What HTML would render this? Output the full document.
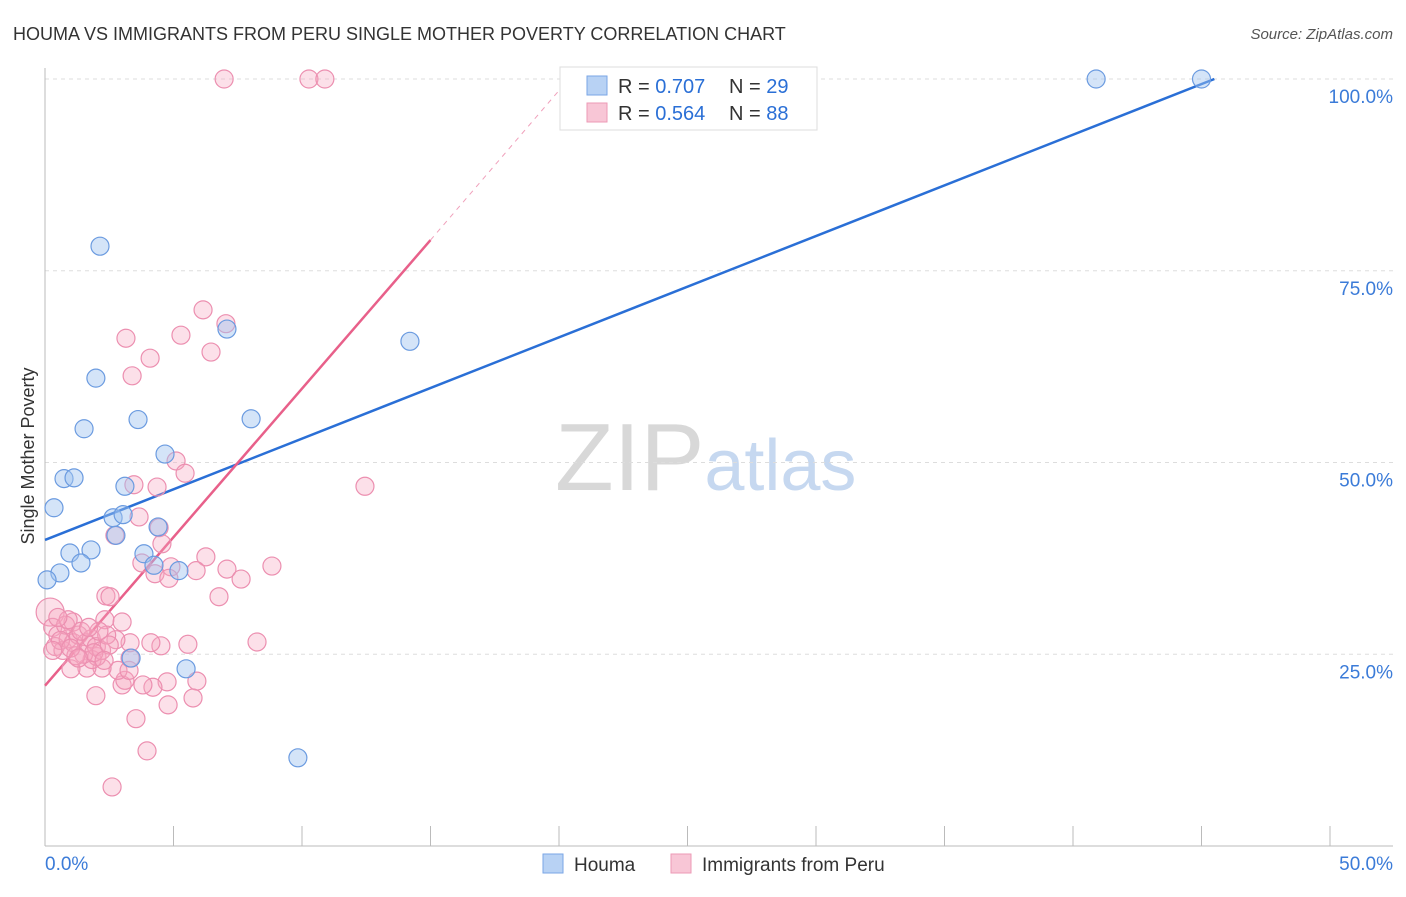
<!DOCTYPE html>
<html><head><meta charset="utf-8"><style>
body{margin:0;background:#fff;font-family:"Liberation Sans",sans-serif;}
svg text{font-family:"Liberation Sans",sans-serif;}
</style></head><body>
<svg id="chart" width="1406" height="892" viewBox="0 0 1406 892" xmlns="http://www.w3.org/2000/svg">
<text x="13" y="40" font-size="18" fill="#333">HOUMA VS IMMIGRANTS FROM PERU SINGLE MOTHER POVERTY CORRELATION CHART</text>
<text x="1393" y="39" font-size="15" fill="#555" font-style="italic" text-anchor="end">Source: ZipAtlas.com</text>
<text x="555" y="490" font-size="96" fill="#d8d8d8" font-family="Liberation Serif">ZIP<tspan fill="#c6d8f0" font-family="Liberation Sans" font-size="72">atlas</tspan></text>
<g id="grid"></g>
<g id="axes"></g>
<g id="lines"></g>
<g id="pts"></g>
<text transform="translate(34,456) rotate(-90)" font-size="18" fill="#333" text-anchor="middle">Single Mother Poverty</text>
<g>
<rect x="560" y="67" width="257" height="63" fill="#fff" stroke="#ddd"/>
<rect x="587" y="76" width="20" height="19" fill="#b8d2f4" stroke="#7aa6e6"/>
<rect x="587" y="103" width="20" height="19" fill="#f8c6d6" stroke="#ec9ab6"/>
<text x="618" y="93" font-size="20" fill="#333">R = <tspan fill="#2a6fd6">0.707</tspan></text>
<text x="729" y="93" font-size="20" fill="#333">N = <tspan fill="#2a6fd6">29</tspan></text>
<text x="618" y="120" font-size="20" fill="#333">R = <tspan fill="#2a6fd6">0.564</tspan></text>
<text x="729" y="120" font-size="20" fill="#333">N = <tspan fill="#2a6fd6">88</tspan></text>
</g>
<g>
<rect x="543" y="854" width="20" height="19" fill="#b8d2f4" stroke="#7aa6e6"/>
<text x="574" y="871" font-size="19" fill="#333">Houma</text>
<rect x="671" y="854" width="20" height="19" fill="#f8c6d6" stroke="#ec9ab6"/>
<text x="702" y="871" font-size="19" fill="#333">Immigrants from Peru</text>
</g>
</svg>
<script>
const houmaX=[2.14,1.98,1.52,3.62,0.74,1.13,0.35,4.67,3.11,2.65,3.04,2.76,4.40,0.97,1.79,1.40,0.58,0.08,3.85,4.24,5.21,3.35,5.49,9.84,7.08,8.02,14.2,40.9,45.0];
const houmaY=[78.2,61.0,54.4,55.6,47.9,48.0,44.1,51.1,46.9,42.8,43.2,40.5,41.6,38.2,38.6,36.9,35.6,34.7,38.1,36.6,35.9,24.5,23.1,11.5,67.4,55.7,65.8,100,100];
const peruX=[6.97,10.27,10.89,6.15,7.04,3.15,5.29,6.46,4.09,3.39,5.10,5.45,3.46,4.36,12.45,3.66,2.72,4.44,4.55,6.26,3.77,4.9,4.28,4.82,5.88,7.08,7.63,8.83,6.77,8.25,5.56,4.51,4.12,3.31,2.76,2.37,2.53,2.33,3.0,1.09,4.75,4.2,3.81,3.0,3.11,5.91,5.76,4.79,1.98,3.54,3.97,2.61,2.84,3.27,2.22,1.63,1.01,2.02,1.83,3.31,
0.2,0.3,0.5,0.4,0.7,0.9,1.1,1.3,1.5,1.6,1.8,2.0,2.2,2.4,1.2,0.8,1.4,0.6,1.9,2.1,1.0,0.3,1.7,2.5,0.9,1.3,2.3,0.5];
const peruY=[100,100,100,69.9,68.1,66.2,66.6,64.4,63.6,61.3,50.2,48.6,47.1,46.8,46.9,42.9,40.5,41.5,39.4,37.7,36.9,36.4,35.5,34.9,35.9,36.1,34.8,36.5,32.5,26.6,26.3,26.1,26.5,26.5,26.9,32.6,32.5,29.5,29.2,29.2,21.4,20.7,21.0,21.0,21.6,21.5,19.3,18.4,19.6,16.6,12.4,7.7,22.9,22.9,23.2,23.2,23.1,24.7,24.3,24.5,
30.5,28.5,27.5,26,25.5,27,26.5,27.5,25,26.5,27,26,25.5,27.5,24.8,28.8,28,26.8,25.2,28,25.8,25.5,28.5,26.2,29.5,24.5,24.2,29.8];
const yTicks=[25,50,75,100];
const yTickLabels=["25.0%","50.0%","75.0%","100.0%"];
const xTicks=[0,5,10,15,20,25,30,35,40,45,50];
const houmaLine=[0,39.9,45.5,100];
const peruLine=[0,20.9,15,79.0];
const peruDash=[15,79.0,20,98.5];
const X=v=>45+v*25.7, Y=v=>846-v*7.67;
const NS="http://www.w3.org/2000/svg";
function mk(p,t,a){const e=document.createElementNS(NS,t);for(const k in a)e.setAttribute(k,a[k]);p.appendChild(e);return e;}
const grid=document.getElementById('grid'),axes=document.getElementById('axes'),lines=document.getElementById('lines'),pts=document.getElementById('pts');
yTicks.forEach((v,i)=>{
 const l=mk(grid,'line',{x1:45,x2:1393,y1:Y(v),y2:Y(v),stroke:'#ddd','stroke-dasharray':'4,4'});
 
 
 const t=mk(axes,'text',{x:1393,y:Y(v)+24,'font-size':19,fill:'#3b7bd8','text-anchor':'end'});
 t.textContent=yTickLabels[i];
 
 
});
const al=mk(axes,'line',{x1:45,x2:45,y1:68,y2:846,stroke:'#bbb'});


const bl=mk(axes,'line',{x1:45,x2:1393,y1:846,y2:846,stroke:'#bbb'});


xTicks.forEach(v=>{
 const t=mk(axes,'line',{x1:X(v),x2:X(v),y1:826,y2:846,stroke:'#bbb'});
 
 
});
const x0=mk(axes,'text',{x:45,y:870,'font-size':19,fill:'#3b7bd8'});x0.textContent='0.0%';


const x1=mk(axes,'text',{x:1393,y:870,'font-size':19,fill:'#3b7bd8','text-anchor':'end'});x1.textContent='50.0%';


peruX.forEach((x,i)=>{
 const c=mk(pts,'circle',{cx:X(x),cy:Y(peruY[i]),r:(i===60?14:9),fill:'rgba(245,165,192,0.35)',stroke:'#ec8fb0','stroke-width':1.2});
 
 
});
houmaX.forEach((x,i)=>{
 const c=mk(pts,'circle',{cx:X(x),cy:Y(houmaY[i]),r:9,fill:'rgba(160,195,240,0.45)',stroke:'#6b9be0','stroke-width':1.2});
 
 
});
const hl=mk(lines,'line',{x1:X(houmaLine[0]),y1:Y(houmaLine[1]),x2:X(houmaLine[2]),y2:Y(houmaLine[3]),stroke:'#2a6fd6','stroke-width':2.5});


const pl=mk(lines,'line',{x1:X(peruLine[0]),y1:Y(peruLine[1]),x2:X(peruLine[2]),y2:Y(peruLine[3]),stroke:'#e8608a','stroke-width':2.5});


const pd=mk(lines,'line',{x1:X(peruDash[0]),y1:Y(peruDash[1]),x2:X(peruDash[2]),y2:Y(peruDash[3]),stroke:'#f0a0bb','stroke-width':1,'stroke-dasharray':'5,5'});


</script>
</body></html>
